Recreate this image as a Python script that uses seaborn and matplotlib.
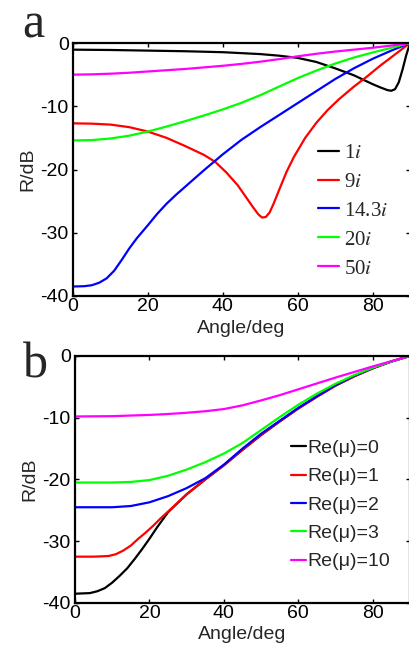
import numpy as np
import pandas as pd
import matplotlib
matplotlib.use("Agg")
import matplotlib.pyplot as plt
import seaborn as sns

sns.set_theme(style="ticks")
plt.rcParams["font.family"] = ["Liberation Sans", "DejaVu Sans"]
plt.rcParams["mathtext.fontset"] = "stix"

# ---- panel a: imaginary part of mu ----
a_names = ["1$i$", "9$i$", "14.3$i$", "20$i$", "50$i$"]
a_colors = ["#000000", "#ff0000", "#0000ff", "#00ff00", "#ff00ff"]

a1_x = [0, 10, 20, 30, 40, 45, 50, 55, 60, 65, 70, 75, 80, 82, 84, 85, 86, 87, 88, 89, 90]
a1_y = [-1.05, -1.1, -1.2, -1.3, -1.45, -1.6, -1.75, -2.0, -2.35, -3.0, -4.0, -5.1, -6.5, -7.0,
        -7.45, -7.55, -7.3, -6.2, -4.2, -1.9, 0]

a9_x = [0, 5, 10, 15, 20, 25, 30, 35, 38, 41, 44, 46, 48, 49.5, 50.5, 51.5, 52.5, 53.5, 55, 57, 59,
        62, 65, 68, 71, 75, 78.5, 82, 86, 90]
a9_y = [-12.7, -12.75, -12.9, -13.3, -14.0, -15.0, -16.3, -17.7, -18.8, -20.5, -22.5, -24.2, -25.9,
        -27.1, -27.6, -27.5, -26.8, -25.5, -23.3, -20.4, -18.0, -15.0, -12.6, -10.6, -8.9, -6.9, -5.3,
        -3.6, -1.8, 0]

a14_x = [0, 3, 5, 7, 9, 11, 13, 15, 17, 20, 22.5, 25, 27.5, 30, 35, 40, 45, 50, 55, 60, 65, 70, 75,
         80, 85, 90]
a14_y = [-38.5, -38.45, -38.3, -37.9, -37.2, -36.0, -34.3, -32.5, -30.9, -28.8, -27.0, -25.4, -24.0,
         -22.7, -20.1, -17.6, -15.3, -13.3, -11.4, -9.5, -7.6, -5.7, -4.0, -2.5, -1.2, 0]

a20_x = [0, 5, 10, 15, 20, 25, 30, 35, 40, 45, 50, 55, 60, 65, 70, 75, 80, 85, 90]
a20_y = [-15.4, -15.35, -15.1, -14.65, -14.0, -13.2, -12.35, -11.45, -10.5, -9.45, -8.25, -6.9,
         -5.55, -4.35, -3.25, -2.3, -1.5, -0.75, 0]

a50_x = [0, 5, 10, 15, 20, 25, 30, 35, 40, 45, 50, 55, 60, 65, 70, 75, 80, 85, 90]
a50_y = [-5.0, -4.95, -4.85, -4.7, -4.5, -4.3, -4.1, -3.85, -3.6, -3.3, -2.95, -2.55, -2.1, -1.7,
         -1.35, -1.05, -0.75, -0.4, 0]

# ---- panel b: real part of mu ----
b_names = ["Re(\u03bc)=0", "Re(\u03bc)=1", "Re(\u03bc)=2", "Re(\u03bc)=3", "Re(\u03bc)=10"]
b_colors = ["#000000", "#ff0000", "#0000ff", "#00ff00", "#ff00ff"]

b0_x = [0, 4, 6, 8, 10, 12, 14, 16, 18, 20, 22, 25, 30, 35, 40, 45, 50, 55, 60, 65, 70, 75, 80, 85, 90]
b0_y = [-38.5, -38.4, -38.1, -37.6, -36.7, -35.6, -34.4, -32.9, -31.3, -29.6, -27.8, -25.3, -22.4,
        -20.0, -17.7, -15.2, -12.8, -10.6, -8.5, -6.6, -4.8, -3.3, -2.0, -0.9, 0]

b1_x = [0, 5, 9, 11, 13, 15, 17, 19, 21, 23, 25, 30, 35, 40, 45, 50, 55, 60, 65, 70, 75, 80, 85, 90]
b1_y = [-32.5, -32.5, -32.4, -32.1, -31.5, -30.7, -29.6, -28.6, -27.5, -26.3, -25.2, -22.4, -20.0,
        -17.7, -15.2, -12.8, -10.6, -8.5, -6.6, -4.8, -3.3, -2.0, -0.9, 0]

b2_x = [0, 10, 15, 20, 25, 30, 35, 40, 45, 50, 55, 60, 65, 70, 75, 80, 85, 90]
b2_y = [-24.5, -24.5, -24.3, -23.7, -22.7, -21.4, -19.8, -17.6, -15.0, -12.6, -10.5, -8.4, -6.5,
        -4.7, -3.2, -1.95, -0.9, 0]

b3_x = [0, 10, 15, 20, 25, 30, 35, 40, 45, 50, 55, 60, 65, 70, 75, 80, 85, 90]
b3_y = [-20.5, -20.5, -20.4, -20.1, -19.4, -18.4, -17.2, -15.8, -14.1, -12.0, -9.9, -7.9, -6.1,
        -4.5, -3.1, -1.9, -0.9, 0]

b10_x = [0, 10, 20, 25, 30, 35, 40, 45, 50, 55, 60, 65, 70, 75, 80, 85, 90]
b10_y = [-9.8, -9.75, -9.55, -9.4, -9.2, -8.95, -8.6, -8.0, -7.2, -6.35, -5.4, -4.45, -3.5, -2.6,
         -1.7, -0.85, 0]


def long_table(names, xs, ys):
    parts = []
    for n, x, y in zip(names, xs, ys):
        parts.append(pd.DataFrame({"angle": x, "R": y, "series": n}))
    return pd.concat(parts, ignore_index=True)


df_a = long_table(a_names, [a1_x, a9_x, a14_x, a20_x, a50_x], [a1_y, a9_y, a14_y, a20_y, a50_y])
df_b = long_table(b_names, [b0_x, b1_x, b2_x, b3_x, b10_x], [b0_y, b1_y, b2_y, b3_y, b10_y])

fig = plt.figure(figsize=(4.09, 6.46), dpi=100)
ax_a = fig.add_axes([0.1785, 0.5418, 0.824, 0.3916])
ax_b = fig.add_axes([0.1834, 0.0666, 0.819, 0.3824])

for ax, df, names, colors in [(ax_a, df_a, a_names, a_colors), (ax_b, df_b, b_names, b_colors)]:
    sns.lineplot(data=df, x="angle", y="R", hue="series", hue_order=names,
                 palette=colors, estimator=None, sort=False, linewidth=1.6, ax=ax)
    ax.set_xlim(0, 90)
    ax.set_ylim(-40, 0)
    ax.set_xticks([0, 20, 40, 60, 80])
    ax.set_yticks([-40, -30, -20, -10, 0])
    ax.set_yticklabels(["-40", "-30", "-20", "-10", "0"])
    ax.tick_params(direction="in", length=3, width=1, labelsize=14, top=True, right=True,
                   colors="black")
    ax.tick_params(axis="x", pad=1.5)
    ax.tick_params(axis="y", pad=3)
    for s in ax.spines.values():
        s.set_linewidth(1.6)
        s.set_color("black")
    ax.set_xlabel("Angle/deg", fontsize=14)
    ax.set_ylabel("R/dB", fontsize=14)
    ax.yaxis.set_label_coords(-0.11, 0.5)

ax_a.xaxis.set_label_coords(0.5, -0.095)
ax_b.xaxis.set_label_coords(0.5, -0.093)

ax_a.legend(loc="center left", bbox_to_anchor=(0.727, 0.336), frameon=False,
            prop={"family": "Liberation Serif", "size": 15}, handlelength=1.0,
            handletextpad=0.25, labelspacing=0.45, borderpad=0, borderaxespad=0)
ax_b.legend(loc="center left", bbox_to_anchor=(0.645, 0.397), frameon=False,
            prop={"size": 14}, handlelength=0.75, handletextpad=0.1,
            labelspacing=0.55, borderpad=0, borderaxespad=0)

fig.text(0.055, 1 - 37 / 646, "a", fontsize=36, family="Liberation Serif", va="baseline")
fig.text(0.055, 1 - 377 / 646, "b", fontsize=36, family="Liberation Serif", va="baseline")

fig.savefig("out.png", dpi=100)
